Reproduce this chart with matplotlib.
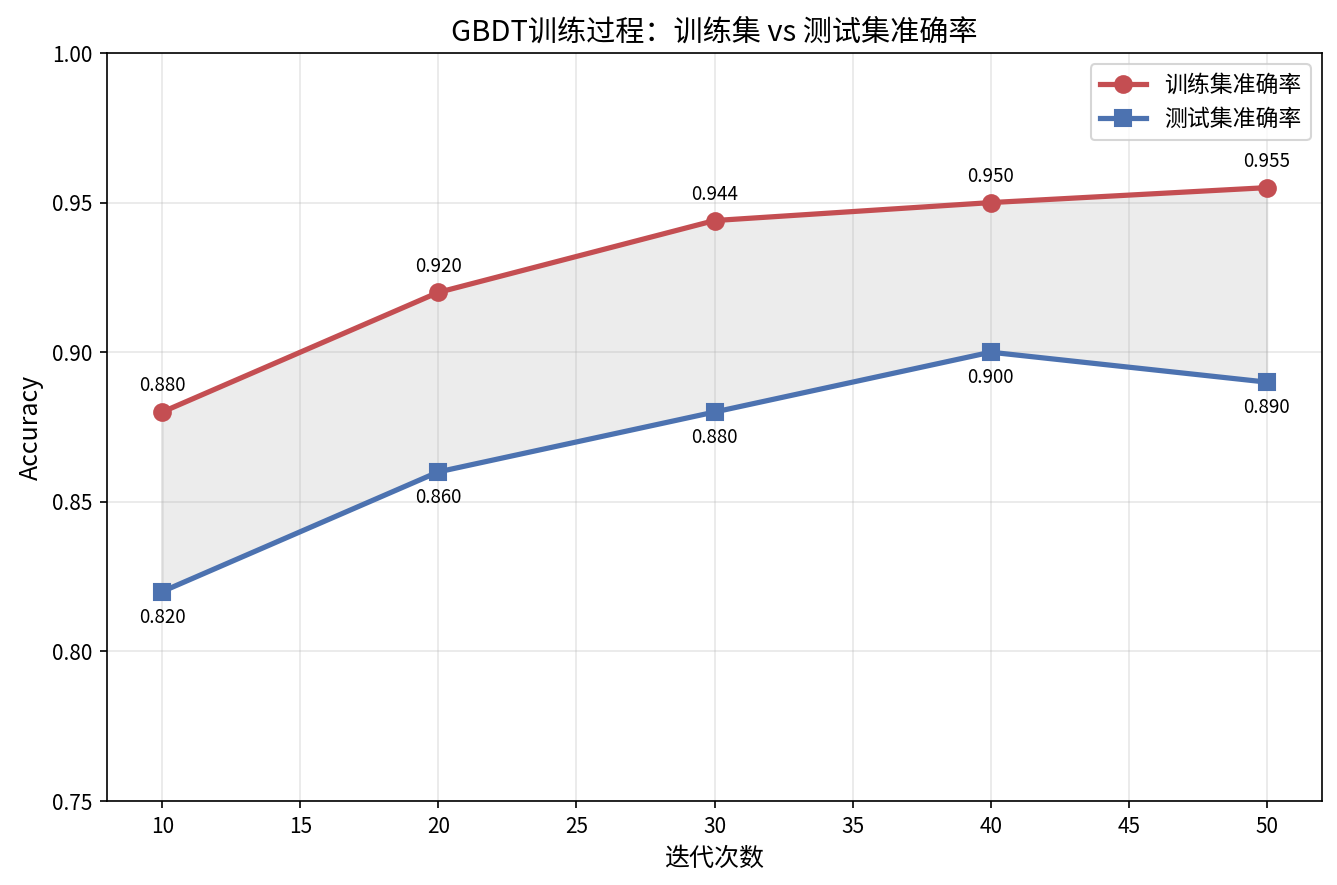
import matplotlib
matplotlib.use("Agg")
import matplotlib.pyplot as plt
import numpy as np

plt.rcParams['font.family'] = ['Noto Sans CJK SC', 'DejaVu Sans']
plt.rcParams['axes.unicode_minus'] = False

iterations = [10, 20, 30, 40, 50]
train_acc = [0.880, 0.920, 0.944, 0.950, 0.955]
test_acc = [0.820, 0.860, 0.880, 0.900, 0.890]

train_color = '#C44E52'
test_color = '#4C72B0'

fig = plt.figure(figsize=(1337/150, 885/150), dpi=150)
ax = fig.add_axes([107/1337, 1 - 801/885, (1322-107)/1337, (801-53)/885])

ax.plot(iterations, train_acc, '-o', color=train_color, lw=2.5, ms=8, label='训练集准确率')
ax.plot(iterations, test_acc, '-s', color=test_color, lw=2.5, ms=8, label='测试集准确率')
ax.fill_between(iterations, test_acc, train_acc, color='gray', alpha=0.15)

for x, y in zip(iterations, train_acc):
    ax.annotate(f'{y:.3f}', (x, y), textcoords='offset points', xytext=(0, 10),
                ha='center', fontsize=9)
for x, y in zip(iterations, test_acc):
    ax.annotate(f'{y:.3f}', (x, y), textcoords='offset points', xytext=(0, -15),
                ha='center', fontsize=9)

ax.set_ylim(0.75, 1.0)
ax.set_xlim(8, 52)
ax.set_yticks([0.75, 0.80, 0.85, 0.90, 0.95, 1.00])
ax.set_yticklabels(['0.75', '0.80', '0.85', '0.90', '0.95', '1.00'])
ax.set_xlabel('迭代次数', fontsize=12)
ax.set_ylabel('Accuracy', fontsize=12)
ax.set_title('GBDT训练过程：训练集 vs 测试集准确率', fontsize=14)
ax.grid(True, alpha=0.3)
ax.legend(loc='upper right', fontsize=11)

fig.savefig('out.png', dpi=150)
